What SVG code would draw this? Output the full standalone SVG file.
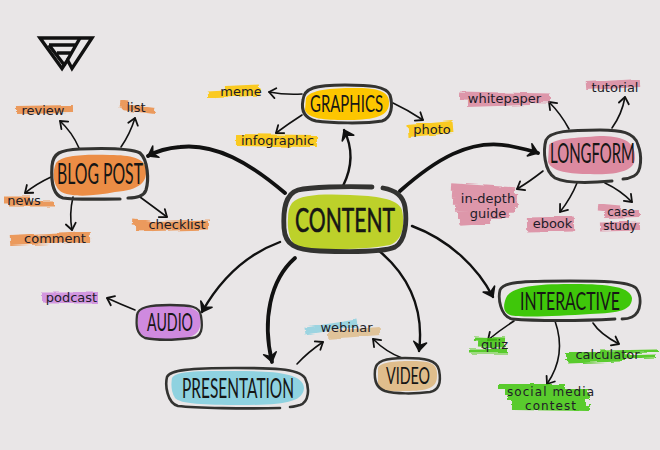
<svg xmlns="http://www.w3.org/2000/svg" width="660" height="450" viewBox="0 0 660 450">
<style>
.box{fill:none;stroke:#333331;stroke-linecap:round;stroke-linejoin:round}
.title{font-family:"Lato","Liberation Sans",sans-serif;font-weight:400;fill:#161615;text-anchor:middle}
.lbl{font-family:"DejaVu Sans","Liberation Sans",sans-serif;font-size:13px;fill:#211c28;text-anchor:middle}
.c{fill:none;stroke:#111;stroke-linecap:round}
.thin{stroke-width:1.600;marker-end:url(#a)}
.mid{stroke-width:2.400;marker-end:url(#b)}
.thick{stroke-width:3.800;marker-end:url(#b)}
.sw{fill:none;stroke-linecap:butt;opacity:.85}
.o{stroke:#ec8d45}.y{stroke:#fdc600}.p{stroke:#dc8aa0}.v{stroke:#cf8adf}.b{stroke:#8fd2e0}.t{stroke:#dfbd8c}.g{stroke:#3fc70a}
</style>
<defs>
<marker id="a" markerUnits="userSpaceOnUse" markerWidth="16" markerHeight="16" viewBox="-10 -8 16 16" refX="0" refY="0" orient="auto"><path d="M-6.500-5L0 0L-6.500 5" fill="none" stroke="#111" stroke-width="1.800" stroke-linecap="round" stroke-linejoin="round"/></marker>
<marker id="b" markerUnits="userSpaceOnUse" markerWidth="20" markerHeight="20" viewBox="-12 -10 20 20" refX="0" refY="0" orient="auto"><path d="M-9-6.500L0 0L-9 6.500L-5.500 0Z" fill="#111" stroke="#111" stroke-width="1.500" stroke-linejoin="round"/></marker>
<filter id="rough" x="-5%" y="-5%" width="110%" height="110%"><feTurbulence type="fractalNoise" baseFrequency="0.04 0.35" numOctaves="2" seed="4"/><feDisplacementMap in="SourceGraphic" scale="4" xChannelSelector="R" yChannelSelector="G"/><feGaussianBlur stdDeviation="0.5"/></filter>
</defs>
<rect width="660" height="450" fill="#e9e6e7"/>
<g id="logo" fill="none" stroke="#111" stroke-width="3.400" stroke-linejoin="miter">
<path d="M40 38L62 68.500L67.500 60L72 68.500L92 38Z"/>
<path d="M80 38L67.500 60M49 45H76M49 45L65 66M57 53H71"/>
</g>
<g id="connectors">
<path class="c thick" d="M285 193C250 163 215 143 180 147C168 148 157 151 148 156"/>
<path class="c mid" d="M343 186C352 168 354 150 344 130"/>
<path class="c thick" d="M400 191C435 160 470 138 510 146C520 148 530 150 538 153"/>
<path class="c mid" d="M412 226C450 240 478 268 493 297"/>
<path class="c mid" d="M378 250C405 272 425 305 419 351"/>
<path class="c thick" d="M295 258C270 280 262 320 272 362"/>
<path class="c mid" d="M280 242C245 255 220 280 202 312"/>
<path class="c thin" d="M79 148Q72 132 60 121"/>
<path class="c thin" d="M121 147Q130 134 135 118"/>
<path class="c thin" d="M51 177Q36 184 25 193"/>
<path class="c thin" d="M73 197Q69 214 72 230"/>
<path class="c thin" d="M140 197Q155 208 167 217"/>
<path class="c thin" d="M302 94Q285 95 269 92"/>
<path class="c thin" d="M302 115Q288 124 276 133"/>
<path class="c thin" d="M393 103Q408 110 423 120"/>
<path class="c thin" d="M569 129Q561 114 549 102"/>
<path class="c thin" d="M612 128Q622 114 625 97"/>
<path class="c thin" d="M543 171Q529 182 517 189"/>
<path class="c thin" d="M577 183Q571 198 560 212"/>
<path class="c thin" d="M605 183Q620 190 632 202"/>
<path class="c thin" d="M135 310Q120 304 107 298"/>
<path class="c thin" d="M297 364Q308 352 323 342"/>
<path class="c thin" d="M402 358Q386 352 373 339"/>
<path class="c thin" d="M514 321Q500 330 488 340"/>
<path class="c thin" d="M555 321Q567 355 547 384"/>
<path class="c thin" d="M593 323Q600 334 619 344"/>
</g>
<g id="highlights" class="sw" filter="url(#rough)">
<path class="o" stroke-width="8" d="M16 110L73 109"/>
<path class="o" stroke-width="7" d="M120 104L128 105"/><path class="o" stroke-width="6" d="M122 107L155 111"/>
<path class="o" stroke-width="7" d="M4 200L30 200"/><path class="o" stroke-width="5" d="M8 204L54 204"/>
<path class="o" stroke-width="10" d="M10 241L90 237"/>
<path class="o" stroke-width="5" d="M132 222L150 224"/><path class="o" stroke-width="9" d="M136 227L209 225"/>
<path class="y" stroke-width="7" d="M225 89.500L259 88"/><path class="y" stroke-width="7" d="M208 95L260 92"/>
<path class="y" stroke-width="12" d="M236 140L317 141"/>
<path class="y" stroke-width="12" d="M408 131L453 127"/>
<path class="p" stroke-width="9" d="M460 96L550 98"/><path class="p" stroke-width="6" d="M468 104L530 102"/>
<path class="p" stroke-width="8" d="M586 86L640 83"/>
<path class="p" stroke-width="7.500" d="M451 187L515 191M452 194L517 197M453 201L518 204M455 208L515 209M458 215L510 214M460 222L490 220"/>
<path class="p" stroke-width="15" d="M527 225L574 224"/>
<path class="p" stroke-width="7" d="M598 207L620 209"/><path class="p" stroke-width="8" d="M604 214L640 213"/><path class="p" stroke-width="9" d="M600 227L640 226"/>
<path class="v" stroke-width="11" d="M42 298L98 298"/>
<path class="b" stroke-width="7" d="M305 331L357 323"/>
<path class="t" stroke-width="8" d="M328 335L380 331"/>
<path class="g" stroke-width="5" d="M474 339L505 340M478 344L505 345"/><path class="g" stroke-width="5" d="M469 351L508 351"/>
<path class="g" stroke-width="8" d="M566 356L625 356"/><path class="g" stroke-width="3" d="M600 352L658 351M620 357L655 356"/><path class="g" stroke-width="5" d="M568 361L620 359"/>
<path class="g" stroke-width="6" d="M498 387L565 387M505 392L588 392M508 397L590 397M512 402L585 402M512 407L590 408"/>
</g>
<g id="content">
<path fill="#bdd12a" d="M292 203C300 194 325 194 350 195C375 196 398 198 402 210C405 225 403 240 390 245C365 250 320 250 300 248C290 245 287 230 288 218C288 212 289 207 292 203Z"/>
<path class="box" stroke-width="4.800" d="M372 187C345 186 310 187 298 190C285 194 283 210 284 228C285 245 295 250 320 251C350 252 385 252 395 247C406 241 407 220 405 207C403 195 395 190 383 188"/>
<text class="title" x="345" y="232" font-size="33" textLength="100" lengthAdjust="spacingAndGlyphs" stroke="#161615" stroke-width=".6">CONTENT</text>
</g>
<g id="blog-post">
<path fill="#ec8d45" d="M56 163C62 155 85 154 110 155C130 155 146 158 146 170C147 182 140 190 115 192C95 196 70 198 60 191C53 185 52 172 56 163Z"/>
<path class="box" stroke-width="3.200" d="M120 199C100 199 75 200 63 198C52 195 51 180 52 166C53 153 60 150 80 149C105 148 130 148 140 153C148 160 149 180 146 190C144 196 136 198 128 198"/>
<text class="title" x="100" y="184" font-size="29" textLength="86" lengthAdjust="spacingAndGlyphs">BLOG POST</text>
</g>
<g id="graphics">
<path fill="#fdc600" d="M306 98C310 90 330 88 355 88C375 88 390 90 389 104C388 118 370 120 345 120C325 120 308 119 305 110Z"/>
<path class="box" stroke-width="3" d="M303 100C304 88 315 85 345 85C370 85 386 86 390 95C393 105 392 118 382 121C365 124 330 123 316 121C304 118 301 110 303 100Z"/>
<text class="title" x="346.500" y="112" font-size="24" textLength="73" lengthAdjust="spacingAndGlyphs">GRAPHICS</text>
</g>
<g id="longform">
<path fill="#dc8aa0" d="M549 145C555 138 575 138 600 136C620 136 636 140 635 158C635 172 615 175 590 174C570 174 552 172 548 162Z"/>
<path class="box" stroke-width="3" d="M612 181C590 183 565 183 555 178C544 171 543 150 546 140C550 131 570 130 600 130C620 130 635 132 638 145C642 155 642 172 634 176C630 178 627 179 623 179"/>
<text class="title" x="592.500" y="163" font-size="27" textLength="85" lengthAdjust="spacingAndGlyphs">LONGFORM</text>
</g>
<g id="interactive">
<path fill="#3fc70a" d="M506 298C510 288 530 284 570 284C600 284 630 285 632 298C632 310 620 313 590 314C560 316 520 318 510 315C503 312 503 306 506 298Z"/>
<path class="box" stroke-width="2.800" d="M615 319C580 321 535 321 512 319C500 316 498 298 500 290C503 282 520 281 570 281C600 281 628 281 636 288C642 296 642 312 632 317C628 319 625 319 622 319"/>
<text class="title" x="570" y="310" font-size="25" textLength="100" lengthAdjust="spacingAndGlyphs">INTERACTIVE</text>
</g>
<g id="video">
<path fill="#dfbd8c" d="M378 368C380 362 395 361 410 361C428 361 438 362 437 376C437 388 428 391 405 391C390 392 380 391 378 384Z"/>
<path class="box" stroke-width="2.500" d="M375 370C376 361 385 358 405 358C425 358 437 360 439 370C441 380 440 390 430 392C415 394 395 394 385 391C376 388 374 380 375 370Z"/>
<text class="title" x="408" y="384" font-size="24" textLength="44" lengthAdjust="spacingAndGlyphs">VIDEO</text>
</g>
<g id="audio">
<path fill="#cf8adf" d="M138 313C140 306 155 306 165 304C180 306 198 306 200 316C202 330 198 337 180 339C165 342 142 340 138 330Z"/>
<path class="box" stroke-width="2.300" d="M137 315C138 307 150 305 170 305C190 305 200 306 201 316C203 328 202 337 192 338C175 340 155 340 145 338C136 334 136 325 137 315Z"/>
<text class="title" x="170" y="331" font-size="25" textLength="46" lengthAdjust="spacingAndGlyphs">AUDIO</text>
</g>
<g id="presentation">
<path fill="#8fd2e0" d="M172 378C176 371 195 371 235 371C270 371 303 372 304 388C303 402 285 405 240 405C205 405 180 404 175 398C171 392 171 384 172 378Z"/>
<path class="box" stroke-width="2.600" d="M280 408C245 409 195 408 178 406C167 403 165 385 167 377C170 370 190 368 235 368C270 368 298 368 305 378C310 388 309 402 300 405C296 406 294 407 290 407"/>
<text class="title" x="238" y="398" font-size="26" textLength="112" lengthAdjust="spacingAndGlyphs">PRESENTATION</text>
</g>
<g id="labels">
<text class="lbl" x="43" y="115">review</text>
<text class="lbl" x="136" y="112">list</text>
<text class="lbl" x="24" y="205">news</text>
<text class="lbl" x="55" y="243">comment</text>
<text class="lbl" x="177" y="229">checklist</text>
<text class="lbl" x="241" y="96">meme</text>
<text class="lbl" x="277.500" y="145">infographic</text>
<text class="lbl" x="432" y="134">photo</text>
<text class="lbl" x="504.500" y="103">whitepaper</text>
<text class="lbl" x="615" y="92">tutorial</text>
<text class="lbl" x="488" y="203">in-depth</text>
<text class="lbl" x="488" y="218">guide</text>
<text class="lbl" x="552.500" y="228">ebook</text>
<text class="lbl" x="621" y="216" style="font-size:12px">case</text>
<text class="lbl" x="620" y="230" style="font-size:12px">study</text>
<text class="lbl" x="71.500" y="302">podcast</text>
<text class="lbl" x="346.500" y="332">webinar</text>
<text class="lbl" x="494.500" y="349">quiz</text>
<text class="lbl" x="607.500" y="359">calculator</text>
<text class="lbl" x="550.500" y="396" style="font-size:12px" textLength="87">social media</text>
<text class="lbl" x="550.500" y="410" style="font-size:12px" textLength="51">contest</text>
</g>
</svg>
